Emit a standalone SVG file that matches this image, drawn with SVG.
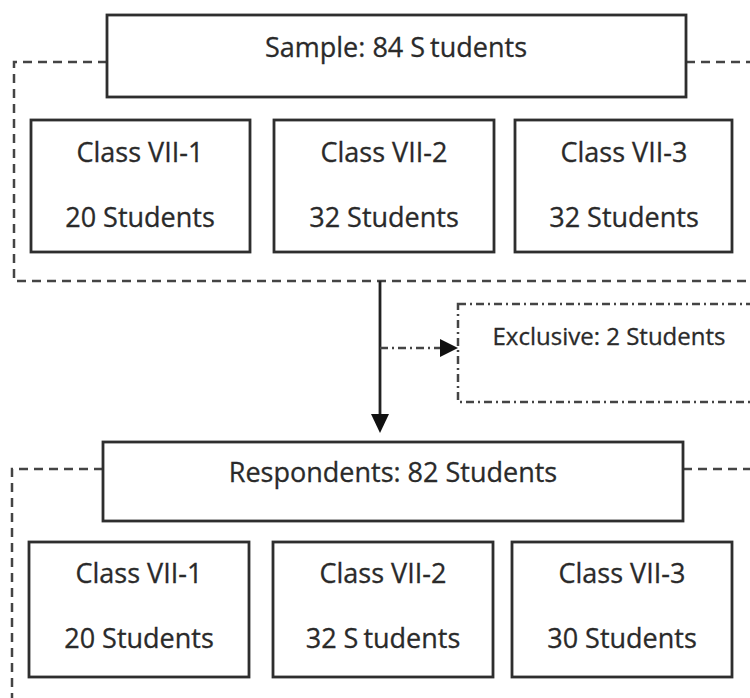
<svg xmlns="http://www.w3.org/2000/svg" width="750" height="698" viewBox="0 0 750 698">
<style>
.box{fill:#fff;stroke:#2e2e2e;stroke-width:2.8}
.grp{fill:none;stroke:#444;stroke-width:2.5;stroke-dasharray:9 6}
.dd{fill:none;stroke:#444;stroke-width:2.5;stroke-dasharray:8 4 2 4}
.t{font-family:"Open Sans","Noto Sans","Liberation Sans",sans-serif;font-size:27px;fill:#2a2a2a;text-anchor:middle;stroke:#2a2a2a;stroke-width:0.3}
.ts{font-size:24px}
.line{fill:none;stroke:#222;stroke-width:2.8}
</style>
<rect width="750" height="698" fill="#fff"/>
<g id="sample-group">
<path class="grp" d="M107,62 H14 V281 H760 M686,62 H760"/>
</g>
<g id="respondents-group">
<path class="grp" d="M103,469 H12 V710 M683,469 H760"/>
</g>
<g id="connectors">
<line class="line" x1="380" y1="281" x2="380" y2="416"/>
<path d="M371,414 L389,414 L380,433 Z" fill="#111"/>
<line class="dd" x1="380" y1="348" x2="442" y2="348"/>
<path d="M440,339 L458,348 L440,357 Z" fill="#111"/>
</g>
<g id="sample">
<rect class="box" x="107" y="15" width="579" height="82"/>
<text class="t" x="396" y="57">Sample: 84 S<tspan dx="5">tudents</tspan></text>
</g>
<g id="s-class1">
<rect class="box" x="31" y="120" width="219" height="132"/>
<text class="t" x="140" y="162">Class VII-1</text>
<text class="t" x="140" y="227">20 Students</text>
</g>
<g id="s-class2">
<rect class="box" x="274" y="120" width="220" height="132"/>
<text class="t" x="384" y="162">Class VII-2</text>
<text class="t" x="384" y="227">32 Students</text>
</g>
<g id="s-class3">
<rect class="box" x="515" y="120" width="217" height="132"/>
<text class="t" x="624" y="162">Class VII-3</text>
<text class="t" x="624" y="227">32 Students</text>
</g>
<g id="exclusive">
<rect class="dd" x="458" y="304" width="310" height="98"/>
<text class="t ts" x="609" y="345">Exclusive: 2 Students</text>
</g>
<g id="respondents">
<rect class="box" x="103" y="442" width="580" height="79"/>
<text class="t" x="393" y="482">Respondents: 82 Students</text>
</g>
<g id="r-class1">
<rect class="box" x="29" y="542" width="220" height="135"/>
<text class="t" x="139" y="583">Class VII-1</text>
<text class="t" x="139" y="648">20 Students</text>
</g>
<g id="r-class2">
<rect class="box" x="273" y="542" width="220" height="135"/>
<text class="t" x="383" y="583">Class VII-2</text>
<text class="t" x="383" y="648">32 S<tspan dx="5">tudents</tspan></text>
</g>
<g id="r-class3">
<rect class="box" x="512" y="542" width="220" height="135"/>
<text class="t" x="622" y="583">Class VII-3</text>
<text class="t" x="622" y="648">30 Students</text>
</g>
</svg>
